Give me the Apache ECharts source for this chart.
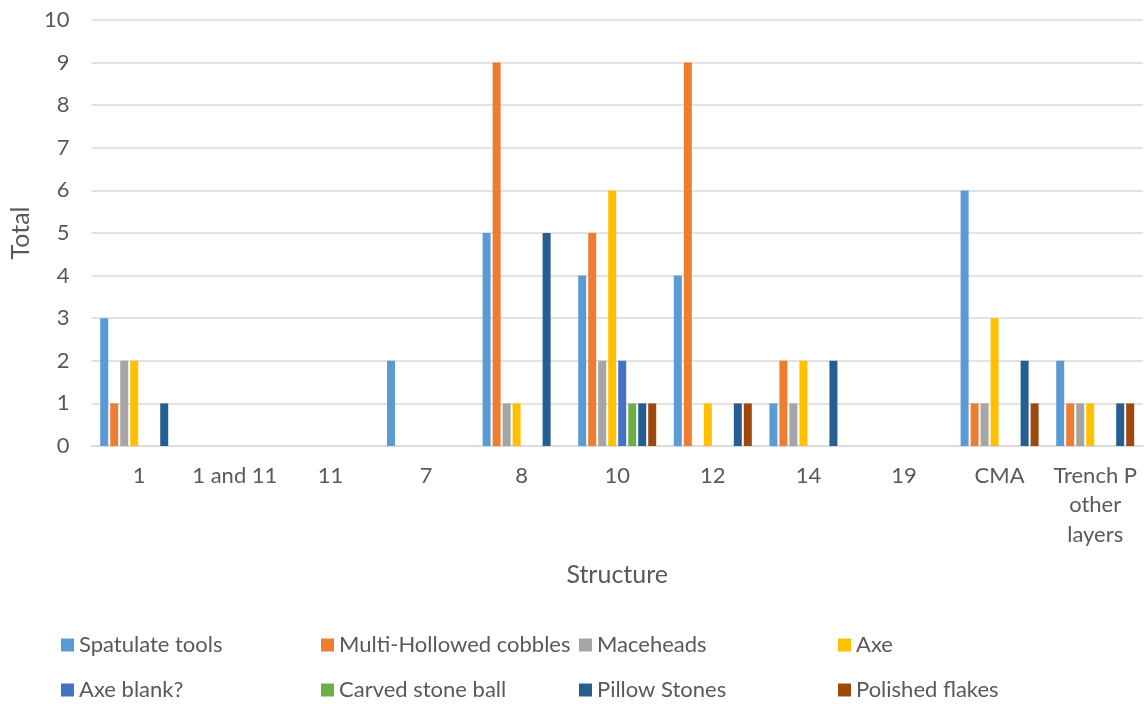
<!DOCTYPE html>
<html>
<head>
<meta charset="utf-8">
<script src="https://cdn.jsdelivr.net/npm/echarts@6/dist/echarts.min.js"></script>
<style>
html,body{margin:0;padding:0;background:#fff;}
#chart{width:1148px;height:704px;}
</style>
</head>
<body>
<div id="chart"></div>
<script>
const categories = ['1', '1 and 11', '11', '7', '8', '10', '12', '14', '19', 'CMA', 'Trench P other layers'];
const yTicks = [0, 1, 2, 3, 4, 5, 6, 7, 8, 9, 10];

const spatulateTools      = [3, 0, 0, 2, 5, 4, 4, 1, 0, 6, 2];
const multiHollowedCobbles = [1, 0, 0, 0, 9, 5, 9, 2, 0, 1, 1];
const maceheads           = [2, 0, 0, 0, 1, 2, 0, 1, 0, 1, 1];
const axe                 = [2, 0, 0, 0, 1, 6, 1, 2, 0, 3, 1];
const axeBlank            = [0, 0, 0, 0, 0, 2, 0, 0, 0, 0, 0];
const carvedStoneBall     = [0, 0, 0, 0, 0, 1, 0, 0, 0, 0, 0];
const pillowStones        = [1, 0, 0, 0, 5, 1, 1, 2, 0, 2, 1];
const polishedFlakes      = [0, 0, 0, 0, 0, 1, 1, 0, 0, 1, 1];

const seriesNames = ['Spatulate tools', 'Multi-Hollowed cobbles', 'Maceheads', 'Axe',
                     'Axe blank?', 'Carved stone ball', 'Pillow Stones', 'Polished flakes'];
const seriesData = [spatulateTools, multiHollowedCobbles, maceheads, axe,
                    axeBlank, carvedStoneBall, pillowStones, polishedFlakes];
const colors = ['#5B9BD5', '#ED7D31', '#A5A5A5', '#FFC000', '#4472C4', '#70AD47', '#255E91', '#9E480E'];

const FONT = 'Lato';
const TXT = '#595959';

const legendLefts = [61, 321, 579, 838];
const legendTops = [634, 679];

const chart = echarts.init(document.getElementById('chart'), null, {renderer: 'canvas'});

const legends = seriesNames.map((name, i) => ({
  data: [name],
  left: legendLefts[i % 4],
  top: legendTops[Math.floor(i / 4)],
  padding: 0,
  itemWidth: 13,
  itemHeight: 13,
  itemGap: 0,
  icon: 'rect',
  selectedMode: false,
  textStyle: {fontFamily: FONT, fontSize: 22, color: TXT, padding: [0, 0, 0, 0]}
}));

const option = {
  backgroundColor: '#ffffff',
  animation: false,
  color: colors,
  textStyle: {fontFamily: FONT},
  grid: {left: 89, right: 5, top: 20, bottom: 258, containLabel: false},
  legend: legends,
  xAxis: {
    type: 'category',
    data: categories,
    name: 'Structure',
    nameLocation: 'middle',
    nameGap: 116,
    nameTextStyle: {fontFamily: FONT, fontSize: 25, color: TXT},
    axisLine: {show: true, lineStyle: {color: '#D9D9D9', width: 1.5}},
    axisTick: {show: false},
    axisLabel: {
      interval: 0,
      margin: 15,
      fontFamily: FONT,
      fontSize: 22,
      color: TXT,
      lineHeight: 29.5,
      width: 88,
      overflow: 'break'
    }
  },
  yAxis: {
    type: 'value',
    min: yTicks[0],
    max: yTicks[yTicks.length - 1],
    interval: 1,
    name: 'Total',
    nameLocation: 'middle',
    nameGap: 58,
    nameTextStyle: {fontFamily: FONT, fontSize: 25, color: TXT},
    axisLine: {show: false},
    axisTick: {show: false},
    axisLabel: {margin: 22, fontFamily: FONT, fontSize: 22, color: TXT},
    splitLine: {show: true, lineStyle: {color: '#D9D9D9', width: 1.5}}
  },
  series: seriesNames.map((name, i) => ({
    name: name,
    type: 'bar',
    data: seriesData[i],
    barWidth: 8,
    barGap: '25%',
    itemStyle: {color: colors[i]}
  }))
};

chart.setOption(option);
</script>
</body>
</html>
